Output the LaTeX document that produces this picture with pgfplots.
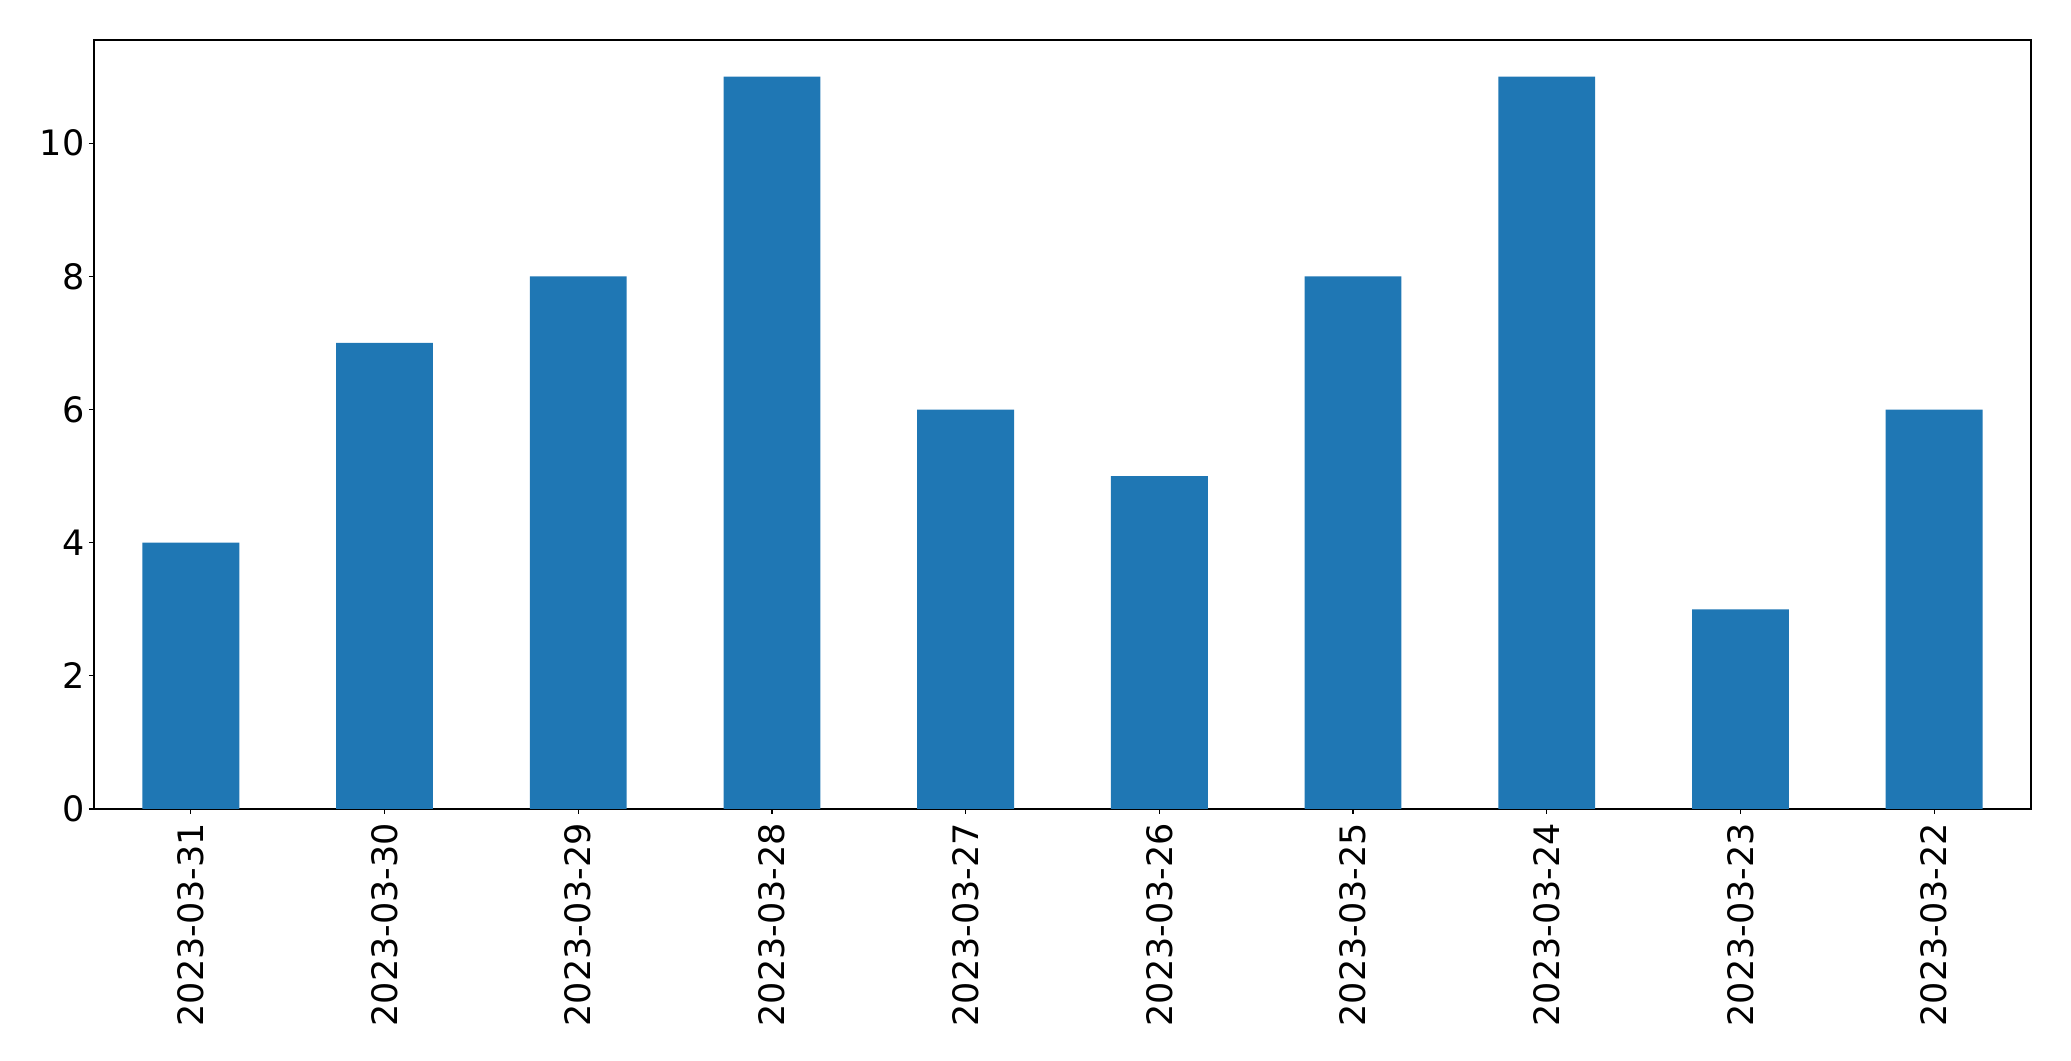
\documentclass[border=0pt]{standalone}
\usepackage{pgfplots}
\pgfplotsset{compat=1.18}
\usepackage{fontspec}
\setmainfont{DejaVu Sans}
\definecolor{mplblue}{HTML}{1F77B4}
\begin{document}
\begin{tikzpicture}
\begin{axis}[
  name=ax,
  scale only axis,
  width=968.5pt, height=384.5pt,
  xmin=-0.5, xmax=9.5, ymin=0, ymax=11.55,
  xtick={0,...,9},
  xticklabels={2023-03-31,2023-03-30,2023-03-29,2023-03-28,2023-03-27,2023-03-26,2023-03-25,2023-03-24,2023-03-23,2023-03-22},
  x tick label style={rotate=90, anchor=east},
  ytick={0,2,4,6,8,10},
  tick label style={font=\fontsize{17.5}{21}\selectfont},
  /pgf/number format/assume math mode=true,
  tick align=outside,
  xtick pos=bottom, ytick pos=left,
  major tick length=2.5pt,
  tick style={black, line width=0.6pt},
  axis line style={line width=0.6pt},
  xticklabel shift=1pt, yticklabel shift=-1.3pt,
]
\addplot[ybar, bar width=0.5, fill=mplblue, draw=none, bar shift=0pt] coordinates {
(0,4) (1,7) (2,8) (3,11) (4,6) (5,5) (6,8) (7,11) (8,3) (9,6)};
\end{axis}
\pgfresetboundingbox
\path[use as bounding box] ([xshift=-47pt,yshift=-126pt]ax.south west) rectangle ([xshift=20pt,yshift=20pt]ax.north east);
\end{tikzpicture}
\end{document}
